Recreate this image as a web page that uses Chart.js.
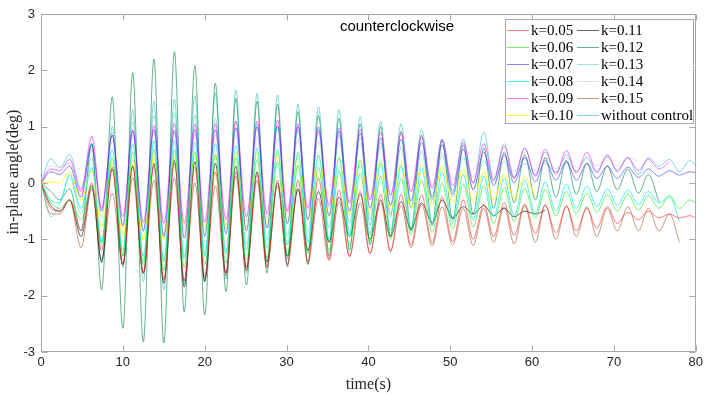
<!DOCTYPE html>
<html>
<head>
<meta charset="utf-8">
<script src="https://cdn.jsdelivr.net/npm/chart.js@4/dist/chart.umd.min.js"></script>
<style>
html,body{margin:0;padding:0;background:#fff;}
#wrap{width:706px;height:394px;}
</style>
</head>
<body>
<div id="wrap"><canvas id="c" width="706" height="394"></canvas></div>
<script>
// time (s) of samples
const time = [0,1.2,2.3,3.5,4.9,6.2,7.4,8.7,10.0,11.2,12.5,13.8,15.0,16.3,17.5,18.8,20.0,21.3,22.6,23.8,25.1,26.4,27.6,28.9,30.1,31.4,32.6,33.9,35.2,36.4,37.7,39.0,40.2,41.5,42.7,44.0,45.2,46.5,47.8,49.0,50.3,51.6,52.8,54.1,55.3,56.6,57.8,59.1,60.4,61.6,62.9,64.2,65.4,66.7,67.9,69.2,70.4,71.7,73.0,74.2,75.5,76.8,78.0,79.3,80];

const k005 = [0,-0.45,-0.5,-0.3,-0.85, 0.0,-1.2,0.28,-1.45,0.3, -1.6,0.3,-1.72,0.35,-1.73, 0.28,-1.65,0.2,-1.6,0.2, -1.55,0.15,-1.5,0.05,-1.45, 0.05,-1.4,0.09,-1.35,-0.12, -1.31,-0.15,-1.25,-0.2,-1.22, -0.2,-1.1,-0.21,-1.07,-0.25, -1.04,-0.3,-1.0,-0.38,-0.95, -0.35,-0.93,-0.38,-0.9,-0.4, -0.88,-0.42,-0.85,-0.45,-0.8, -0.42,-0.72,-0.52,-0.65,-0.5, -0.62,-0.55,-0.62,-0.58,-0.62];
const k006 = [0,-0.35,-0.45,-0.3,-0.65, -0.05,-1.05,0.45,-1.3,0.55, -1.45,0.6,-1.55,0.59,-1.5, 0.55,-1.45,0.5,-1.42,0.45, -1.38,0.42,-1.33,0.38,-1.28, 0.32,-1.25,0.28,-1.2,0.22, -1.12,0.18,-1.05,0.12,-1.0, 0.08,-0.92,0.05,-0.88,0.0, -0.82,-0.02,-0.78,-0.05,-0.72, -0.08,-0.68,-0.1,-0.62,-0.12, -0.58,-0.15,-0.55,-0.18,-0.52, -0.2,-0.5,-0.2,-0.48,-0.22, -0.45,-0.22,-0.45,-0.3,-0.36];
const k007 = [0,0.2,0.15,0.3,-0.25, 0.68,-0.5,0.85,-0.75,0.92, -0.85,0.95,-0.95,0.94,-0.98, 0.95,-0.95,0.95,-0.9,0.98, -0.85,1.0,-0.8,1.02,-0.72, 1.0,-0.65,0.95,-0.58,0.92, -0.5,0.88,-0.45,0.8,-0.4, 0.78,-0.32,0.72,-0.25,0.68, -0.2,0.6,-0.12,0.55,-0.05, 0.5,0.0,0.45,0.02,0.4, 0.05,0.38,0.05,0.35,0.08, 0.3,0.08,0.28,0.1,0.25, 0.12,0.22,0.14,0.2,0.18];
const k008 = [0,-0.3,-0.35,0.15,-0.45, 0.28,-1.05,0.6,-1.2,0.7, -1.3,0.75,-1.38,0.76,-1.35, 0.72,-1.3,0.7,-1.25,0.66, -1.2,0.62,-1.15,0.6,-1.1, 0.55,-1.05,0.5,-1.0,0.45, -0.95,0.4,-0.9,0.35,-0.85, 0.3,-0.8,0.25,-0.75,0.2, -0.7,0.15,-0.65,0.12,-0.6, 0.08,-0.58,0.05,-0.55,0.02, -0.5,-0.02,-0.45,-0.05,-0.42, -0.1,-0.4,-0.12,-0.38,-0.15, -0.35,-0.25,-0.68,null,null];
const k009 = [0,0.25,0.22,0.42,-0.15, 0.83,-0.45,0.85,-0.6,0.95, -0.7,1.02,-0.72,1.06,-0.71, 1.05,-0.7,1.05,-0.65,1.1, -0.6,1.1,-0.55,1.12,-0.5, 1.05,-0.45,1.0,-0.4,0.98, -0.35,0.95,-0.3,0.9,-0.22, 0.88,-0.15,0.82,-0.1,0.78, -0.05,0.72,0.0,0.7,0.05, 0.65,0.08,0.62,0.12,0.6, 0.15,0.58,0.18,0.55,0.2, 0.5,0.22,0.45,0.22,0.42, 0.25,0.38,null,null,null];
const k010 = [0,0.02,0.0,0.2,-0.3, 0.23,-0.78,0.35,-0.95,0.42, -1.0,0.45,-1.0,0.47,-0.8, 0.5,-0.85,0.52,-0.82,0.55, -0.8,0.55,-0.75,0.52,-0.7, 0.5,-0.65,0.48,-0.6,0.45, -0.55,0.42,-0.52,0.4,-0.48, 0.35,-0.45,0.32,-0.4,0.3, -0.35,0.25,-0.32,0.2,-0.3, 0.15,-0.28,0.1,-0.25,null, null,null,null,null,null, null,null,null,null,null, null,null,null,null,null];
const k011 = [0,-0.4,-0.5,-0.3,-0.95, -0.05,-1.4,0.25,-1.45,0.3, -1.6,0.35,-1.78,0.41,-1.85, 0.38,-1.75,0.35,-1.6,0.3, -1.5,0.2,-1.4,0.0,-1.3, -0.1,-1.2,-0.15,-1.05,-0.25, -0.95,-0.2,-1.0,-0.3,-0.95, -0.33,-0.82,-0.35,-0.7,-0.3, -0.62,-0.42,-0.55,-0.4,-0.58, -0.45,-0.6,-0.5,-0.55,-0.48, null,null,null,null,null, null,null,null,null,null, null,null,null,null,null];
const k012 = [0,-0.15,-0.3,-0.1,-0.85, 0.7,-1.9,1.53,-2.58,1.96, -2.82,2.2,-2.84,2.33,-2.29, 2.08,-2.34,1.77,-1.93,1.5, -1.81,1.45,-1.6,1.4,-1.49, 1.27,-1.45,1.2,-1.3,1.15, -1.2,1.05,-1.1,1.0,-0.95, 0.92,-0.85,0.85,-0.75,0.75, -0.65,0.68,-0.55,0.62,-0.45, 0.55,-0.35,0.5,-0.3,0.45, -0.25,0.4,-0.2,0.35,-0.15, 0.3,-0.12,0.25,-0.18,0.15, -0.33,null,null,null,null];
const k013 = [0,-0.6,-0.35,0.1,-0.55, 0.45,-1.1,0.9,-1.3,1.1, -1.4,1.2,-1.4,1.25,-1.3, 1.2,-1.25,1.15,-1.2,1.1, -1.1,1.05,-1.0,1.0,-0.95, 0.95,-0.88,0.9,-0.8,0.85, -0.72,0.8,-0.65,0.72,-0.55, 0.65,-0.45,0.55,-0.35,0.5, -0.25,0.45,-0.1,0.4,0.0, 0.38,0.1,0.35,0.15,0.35, 0.2,0.35,0.2,null,null, null,null,null,null,null, null,null,null,null,null];
const k014 = [0,0.3,0.28,0.35,-0.2, 0.6,-0.6,0.75,-0.8,0.85, -0.85,0.9,-0.9,0.9,-0.85, 0.88,-0.8,0.85,-0.75,0.85, -0.7,0.82,-0.62,0.8,-0.55, 0.78,-0.5,0.75,-0.45,0.72, -0.38,0.7,-0.3,0.65,-0.22, 0.6,-0.15,0.58,-0.05,0.55, 0.05,0.5,0.1,0.5,0.15, 0.48,0.2,0.45,0.22,0.45, 0.25,0.45,0.28,0.45,0.3, 0.45,0.3,0.45,0.38,null, null,null,null,null,null];
const k015 = [0,-0.55,-0.55,-0.3,-1.15, -0.1,-1.35,-0.18,-1.45,0.1, -1.6,0.05,-1.7,0.09,-1.75, 0.0,-1.7,-0.05,-1.65,0.12, -1.55,0.05,-1.5,-0.05,-1.45, -0.12,-1.42,-0.27,-1.38,-0.33, -1.3,-0.35,-1.25,-0.35,-1.2, -0.4,-1.15,-0.38,-1.12,-0.42, -1.1,-0.45,-1.11,-0.45,-1.05, -0.42,-1.08,-0.4,-1.05,-0.38, -1.0,-0.4,-0.95,-0.42,-0.95, -0.45,-0.85,-0.42,-0.85,-0.45, -0.85,-0.55,-1.05,null,null];
const withoutControl = [0,0.43,0.27,0.51,-0.1, 0.7,-1.42,1.0,-1.5,1.3, -1.75,1.45,-1.9,1.49,-1.8, 1.55,-1.75,1.6,-1.7,1.65, -1.6,1.59,-1.45,1.56,-1.35, 1.4,-1.2,1.35,-1.05,1.3, -0.9,1.18,-0.75,1.09,-0.6, 1.05,-0.45,0.95,-0.3,0.78, -0.15,0.78,0.0,0.9,0.05, 0.7,0.1,0.62,0.15,0.55, 0.18,0.5,0.2,0.45,0.18, 0.48,0.2,0.45,0.15,0.45, 0.3,0.42,0.2,0.4,0.3];

const seriesNames = ['k=0.05','k=0.06','k=0.07','k=0.08','k=0.09','k=0.10','k=0.11','k=0.12','k=0.13','k=0.14','k=0.15','without control'];
const seriesValues = [k005,k006,k007,k008,k009,k010,k011,k012,k013,k014,k015,withoutControl];
const seriesColors = ['rgba(255,40,40,0.6)','rgba(0,235,0,0.55)','rgba(40,40,255,0.55)','rgba(0,240,240,0.7)','rgba(255,0,255,0.55)','rgba(255,255,0,0.85)','rgba(0,0,0,0.6)','rgba(20,140,80,0.65)','rgba(80,210,180,0.55)','rgba(200,200,200,0.6)','rgba(160,90,50,0.6)','rgba(60,195,200,0.65)'];
const xTicks = [0,10,20,30,40,50,60,70,80];
const yTicks = [-3,-2,-1,0,1,2,3];
const chartTitle = 'counterclockwise';
const xTitle = 'time(s)';
const yTitle = 'in-plane angle(deg)';

const datasets = seriesValues.map((vals, i) => ({
  label: seriesNames[i],
  data: time.map((t, j) => ({x: t, y: vals[j]})),
  borderColor: seriesColors[i],
  backgroundColor: seriesColors[i],
  borderWidth: 1,
  pointRadius: 0,
  fill: false,
  cubicInterpolationMode: 'monotone',
  spanGaps: false
}));

const decor = {
  id: 'decor',
  afterDraw(chart) {
    const ctx = chart.ctx;
    const a = chart.chartArea;
    const xs = chart.scales.x, ys = chart.scales.y;
    ctx.save();
    // axes box
    ctx.strokeStyle = '#a8a8a8';
    ctx.lineWidth = 1;
    const L = Math.round(a.left) + 0.5, R = Math.round(a.right) - 0.5;
    const T = Math.round(a.top) + 0.5, B = Math.round(a.bottom) - 0.5;
    ctx.beginPath();
    ctx.rect(L, T, R - L, B - T);
    ctx.stroke();
    // inward ticks
    ctx.beginPath();
    xTicks.forEach(v => {
      const px = Math.round(xs.getPixelForValue(v)) + 0.5;
      ctx.moveTo(px, B); ctx.lineTo(px, B - 6);
      ctx.moveTo(px, T); ctx.lineTo(px, T + 6);
    });
    yTicks.forEach(v => {
      const py = Math.round(ys.getPixelForValue(v)) + 0.5;
      ctx.moveTo(L, py); ctx.lineTo(L + 6, py);
      ctx.moveTo(R, py); ctx.lineTo(R - 6, py);
    });
    ctx.stroke();
    // title
    ctx.fillStyle = '#000';
    ctx.font = '15px "Liberation Sans", Arial, sans-serif';
    ctx.textAlign = 'center';
    ctx.textBaseline = 'middle';
    ctx.fillText(chartTitle, 397, 27);
    // y title
    ctx.save();
    ctx.translate(14, 172);
    ctx.rotate(-Math.PI / 2);
    ctx.font = '16px "Liberation Serif", "Times New Roman", serif';
    ctx.fillStyle = '#262626';
    ctx.fillText(yTitle, 0, 0);
    ctx.restore();
    // legend
    const bx = 505.5, by = 19.5, bw = 188, bh = 104;
    ctx.fillStyle = '#fff';
    ctx.fillRect(bx, by, bw, bh);
    ctx.strokeStyle = '#a8a8a8';
    ctx.strokeRect(bx, by, bw, bh);
    ctx.font = '15px "Liberation Serif", "Times New Roman", serif';
    ctx.textAlign = 'left';
    ctx.textBaseline = 'middle';
    chart.data.datasets.forEach((ds, i) => {
      const col = i < 6 ? 0 : 1;
      const row = i % 6;
      const y = 30 + row * 17;
      const lx = col === 0 ? 507 : 577;
      ctx.strokeStyle = ds.borderColor;
      ctx.lineWidth = 1;
      ctx.beginPath();
      ctx.moveTo(lx, y + 0.5); ctx.lineTo(lx + 22, y + 0.5);
      ctx.stroke();
      ctx.fillStyle = '#000';
      ctx.fillText(ds.label, lx + 24, y + 1);
    });
    ctx.restore();
  }
};

new Chart(document.getElementById('c'), {
  type: 'line',
  data: { datasets },
  options: {
    responsive: false,
    animation: false,
    layout: { padding: { top: 14, right: 9, left: 0, bottom: 0 } },
    plugins: { legend: { display: false }, tooltip: { enabled: false }, title: { display: false } },
    scales: {
      x: {
        type: 'linear', min: 0, max: 80,
        afterFit: s => { s.height = 42; },
        afterBuildTicks: s => { s.ticks = xTicks.map(v => ({ value: v })); },
        grid: { display: false, drawTicks: false },
        border: { display: false },
        ticks: { color: '#262626', font: { family: '"Liberation Sans", Arial, sans-serif', size: 13 }, padding: 3, maxRotation: 0 },
        title: { display: true, text: xTitle, color: '#262626', font: { family: '"Liberation Serif", "Times New Roman", serif', size: 16 }, padding: { top: 0, bottom: 0 } }
      },
      y: {
        type: 'linear', min: -3, max: 3,
        afterFit: s => { s.width = 41; },
        afterBuildTicks: s => { s.ticks = yTicks.map(v => ({ value: v })); },
        grid: { display: false, drawTicks: false },
        border: { display: false },
        ticks: { color: '#262626', font: { family: '"Liberation Sans", Arial, sans-serif', size: 13 }, padding: 6 }
      }
    }
  },
  plugins: [decor]
});
</script>
</body>
</html>
